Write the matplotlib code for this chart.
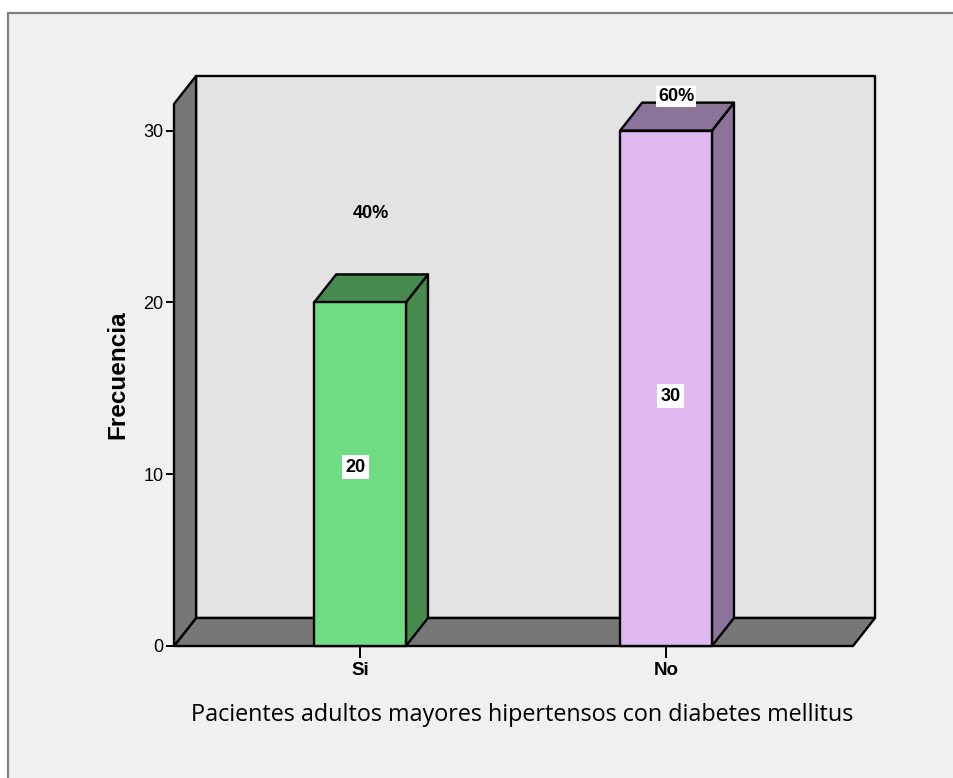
import matplotlib.pyplot as plt
from matplotlib.patches import Polygon, Rectangle

categorias = ["Si", "No"]
frecuencias = [20, 30]
porcentajes = ["40%", "60%"]
colores_frente = ["#70dc84", "#dfb8f2"]
colores_lado = ["#468a50", "#8b7399"]

# label placement (data units)
pos_valor = [(-0.015, 10.4), (0.016, 14.55)]
pos_pct = [(0.036, 25.2), (0.033, 32.0)]

XMIN, XMAX, YMAX = -0.608, 1.611, 31.55
DX, DY = 0.072, 1.63   # depth of the 3D box in data units
ANCHO = 0.30

fig = plt.figure(figsize=(9.54, 7.78), dpi=100)
fig.patch.set_facecolor("white")
fig.add_artist(Rectangle((8 / 954, -0.02), 1.0, 1 - 13 / 778 + 0.02,
                         transform=fig.transFigure, fc="#f0f0f0",
                         ec="#808080", lw=1.6, zorder=-5))

ax = fig.add_axes([174 / 954, 132 / 778, 679 / 954, 542 / 778])
ax.set_xlim(XMIN, XMAX)
ax.set_ylim(0, YMAX)
ax.patch.set_visible(False)
for s in ax.spines.values():
    s.set_visible(False)


def cara(pts, fc, z):
    ax.add_patch(Polygon(pts, closed=True, fc=fc, ec="black", lw=1.7,
                         joinstyle="round", clip_on=False, zorder=z))


# back wall, floor and left wall
cara([(XMIN + DX, DY), (XMAX + DX, DY), (XMAX + DX, YMAX + DY),
      (XMIN + DX, YMAX + DY)], "#e3e3e3", 1)
cara([(XMIN, 0), (XMAX, 0), (XMAX + DX, DY), (XMIN + DX, DY)], "#777777", 2)
cara([(XMIN, 0), (XMIN, YMAX), (XMIN + DX, YMAX + DY), (XMIN + DX, DY)],
     "#777777", 2)

for i, v in enumerate(frecuencias):
    x0, x1 = i - ANCHO / 2, i + ANCHO / 2
    cara([(x1, 0), (x1 + DX, DY), (x1 + DX, v + DY), (x1, v)], colores_lado[i], 3)
    cara([(x0, v), (x1, v), (x1 + DX, v + DY), (x0 + DX, v + DY)], colores_lado[i], 3)
    cara([(x0, 0), (x1, 0), (x1, v), (x0, v)], colores_frente[i], 4)

    px, py = pos_valor[i]
    ax.text(i + px, py, str(v), ha="center", va="center", fontsize=13,
            fontweight="bold", family="Liberation Sans", zorder=6,
            bbox=dict(fc="white", ec="none", pad=2.5))
    qx, qy = pos_pct[i]
    caja = dict(fc="white", ec="none", pad=1.5) if i == 1 else None
    ax.text(i + qx, qy, porcentajes[i], ha="center", va="center", fontsize=13,
            fontweight="bold", family="Liberation Sans", zorder=6, bbox=caja)

ax.set_yticks([0, 10, 20, 30])
ax.tick_params(axis="y", direction="out", length=6, width=1.4, pad=1.5,
               labelsize=13)
ax.set_xticks(range(len(categorias)))
ax.set_xticklabels(categorias, fontweight="bold", fontsize=13.5)
ax.tick_params(axis="x", direction="out", length=8.5, width=1.4, pad=3)
for lab in ax.get_yticklabels() + ax.get_xticklabels():
    lab.set_family("Liberation Sans")

ax.set_ylabel("Frecuencia", fontsize=17.5, fontweight="bold",
              family="Liberation Sans")
ax.yaxis.set_label_coords(-0.0825, 0.5)
ax.yaxis.label.set_va("center")

ax.set_xlabel("Pacientes adultos mayores hipertensos con diabetes mellitus",
              fontsize=16.8, family="Open Sans")
ax.xaxis.set_label_coords(0.5125, -0.127)
ax.xaxis.label.set_va("center")

fig.savefig("out.png", dpi=100)
